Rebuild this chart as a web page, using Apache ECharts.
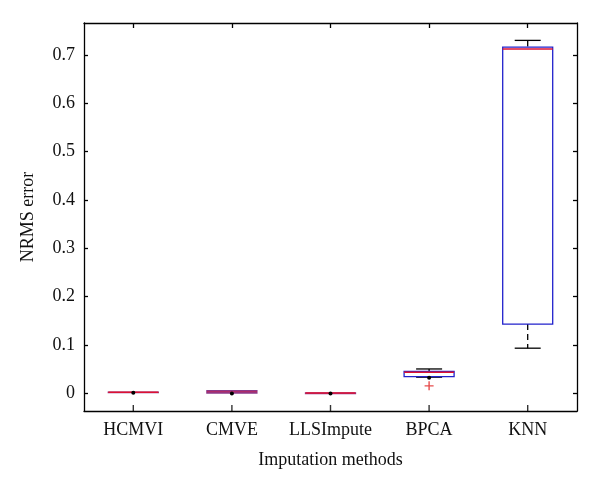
<!DOCTYPE html>
<html><head><meta charset="utf-8">
<script src="https://cdn.jsdelivr.net/npm/echarts@6/dist/echarts.min.js"></script>
<style>html,body{margin:0;padding:0;background:#fff}#c{width:600px;height:491px}</style>
</head><body><div id="c"></div>
<script>
const categories = ['HCMVI', 'CMVE', 'LLSImpute', 'BPCA', 'KNN'];
const whiskerLow  = [0.000, -0.001, -0.002, 0.033, 0.093];
const q1          = [0.001, 0.000, -0.001, 0.034, 0.143];
const median      = [0.002, 0.003, 0.000, 0.043, 0.712];
const q3          = [0.002, 0.005, 0.0005, 0.045, 0.716];
const whiskerHigh = [0.004, 0.006, 0.002, 0.050, 0.730];
const meanDot     = [0.001, -0.001, -0.001, 0.032, null];
const outliers    = [[3, 0.015]];
const yTicks = [0, 0.1, 0.2, 0.3, 0.4, 0.5, 0.6, 0.7];
const Y_MIN = -0.037, Y_MAX = 0.766;

const FONT = 'Liberation Serif';
const boxData = categories.map((c, i) => [i, whiskerLow[i], q1[i], median[i], q3[i], whiskerHigh[i], meanDot[i]]);
const bottomTicks = categories.map((c, i) => [i, Y_MIN]);

const chart = echarts.init(document.getElementById('c'));
chart.setOption({
  animation: false,
  backgroundColor: '#fff',
  grid: { left: 84, right: 23, top: 23, bottom: 80 },
  xAxis: [{
    type: 'category', data: categories, position: 'bottom',
    name: 'Imputation methods', nameLocation: 'middle', nameGap: 40,
    nameTextStyle: { fontFamily: FONT, fontSize: 18, color: '#111' },
    axisLine: { onZero: false, lineStyle: { color: '#000', width: 1.3 } },
    axisTick: { show: false },
    axisLabel: { fontFamily: FONT, fontSize: 18, color: '#111', margin: 10, interval: 0, hideOverlap: false },
    splitLine: { show: false }
  }, {
    type: 'category', data: categories, position: 'top',
    axisLine: { onZero: false, lineStyle: { color: '#000', width: 1.3 } },
    axisTick: { show: true, inside: true, length: 5, interval: 0, alignWithLabel: true, lineStyle: { color: '#000', width: 1.3 } },
    axisLabel: { show: false }, splitLine: { show: false }
  }],
  yAxis: [{
    type: 'value', min: Y_MIN, max: Y_MAX, position: 'left',
    name: 'NRMS error', nameLocation: 'middle', nameGap: 47,
    nameTextStyle: { fontFamily: FONT, fontSize: 18, color: '#111' },
    axisLine: { show: true, onZero: false, lineStyle: { color: '#000', width: 1.3 } },
    axisTick: { show: true, inside: true, length: 4, customValues: yTicks, lineStyle: { color: '#000', width: 1.3 } },
    axisLabel: { fontFamily: FONT, fontSize: 18, color: '#111', margin: 9, customValues: yTicks,
      formatter: v => (Math.abs(v) < 1e-9 ? '0' : String(+v.toFixed(1))) },
    splitLine: { show: false }
  }, {
    type: 'value', min: Y_MIN, max: Y_MAX, position: 'right',
    axisLine: { show: true, onZero: false, lineStyle: { color: '#000', width: 1.3 } },
    axisTick: { show: true, inside: true, length: 4, customValues: yTicks, lineStyle: { color: '#000', width: 1.3 } },
    axisLabel: { show: false }, splitLine: { show: false }
  }],
  series: [{
    type: 'custom',
    data: boxData,
    encode: { x: 0, y: [1, 2, 3, 4, 5] },
    renderItem: function (params, api) {
      const i = api.value(0);
      const bw = 50, cw = 26;
      const cx = api.coord([i, 0])[0];
      const yLo = api.coord([i, api.value(1)])[1];
      const yQ1 = api.coord([i, api.value(2)])[1];
      const yMed = api.coord([i, api.value(3)])[1];
      const yQ3 = api.coord([i, api.value(4)])[1];
      const yHi = api.coord([i, api.value(5)])[1];
      const m = api.value(6);
      const small = (yQ1 - yQ3) < 3;
      const children = [
        { type: 'line', shape: { x1: cx, y1: yHi, x2: cx, y2: yQ3 }, style: { stroke: '#000', lineWidth: 1.3, lineDash: small ? null : [6, 4] } },
        { type: 'line', shape: { x1: cx, y1: yQ1, x2: cx, y2: yLo }, style: { stroke: '#000', lineWidth: 1.3, lineDash: small ? null : [6, 4] } },
        { type: 'line', shape: { x1: cx - cw / 2, y1: yHi, x2: cx + cw / 2, y2: yHi }, style: { stroke: '#000', lineWidth: 1.3, opacity: small ? 0 : 1 } },
        { type: 'line', shape: { x1: cx - cw / 2, y1: yLo, x2: cx + cw / 2, y2: yLo }, style: { stroke: '#000', lineWidth: 1.3, opacity: small ? 0 : 1 } },
        { type: 'rect', shape: { x: cx - bw / 2, y: yQ3, width: bw, height: Math.max(yQ1 - yQ3, 0.5) }, style: { fill: small ? '#7a4aa8' : '#fff', stroke: small ? '#8a3a8a' : '#2222cc', lineWidth: 1.3 } },
        { type: 'line', shape: { x1: cx - bw / 2, y1: yMed, x2: cx + bw / 2, y2: yMed }, style: { stroke: '#dd1133', lineWidth: 1.5, opacity: i === 1 ? 0.5 : 1 } }
      ];
      if (m !== null && !isNaN(m)) {
        const ym = api.coord([i, m])[1];
        children.push({ type: 'circle', shape: { cx: cx, cy: ym, r: 2 }, style: { fill: '#000' } });
      }
      return { type: 'group', children: children };
    },
    z: 5
  }, {
    type: 'scatter',
    data: outliers,
    symbol: 'path://M0,-1L0,1M-1,0L1,0',
    symbolSize: 9,
    itemStyle: { color: 'none', borderColor: '#e02020', borderWidth: 1.4 },
    z: 6
  }, {
    type: 'scatter',
    data: bottomTicks,
    clip: false,
    symbol: 'rect',
    symbolSize: [1.4, 7],
    symbolOffset: [0, -2.5],
    itemStyle: { color: '#000' },
    silent: true,
    z: 7
  }]
});
</script>
</body></html>
